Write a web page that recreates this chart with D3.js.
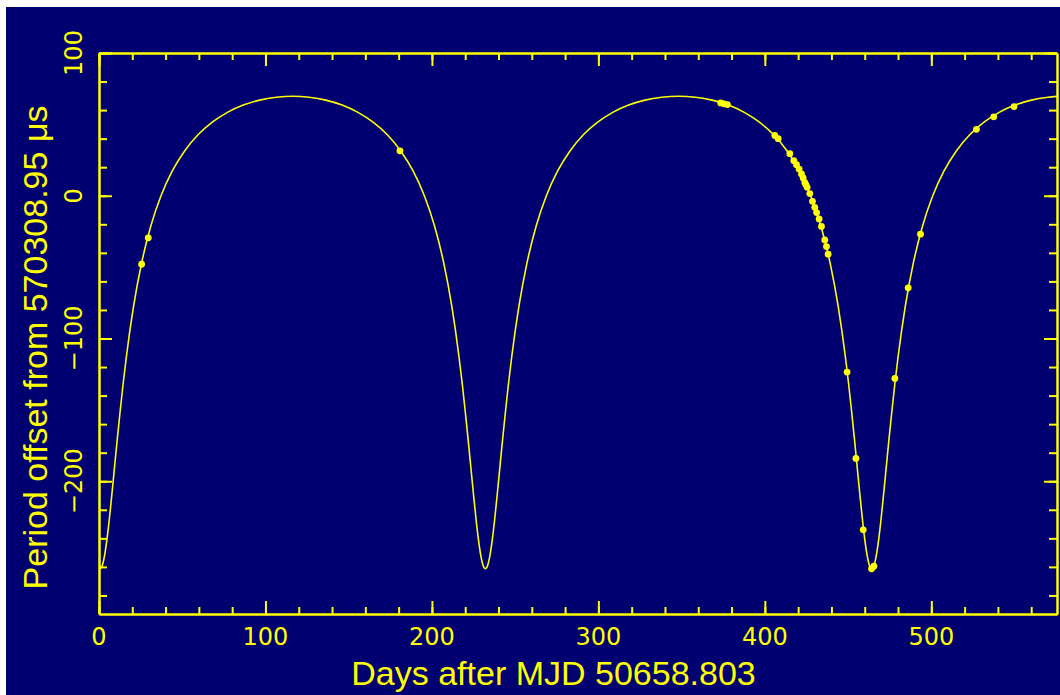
<!DOCTYPE html>
<html>
<head>
<meta charset="utf-8">
<script src="https://cdn.jsdelivr.net/npm/d3@7"></script>
<style>
body { margin: 0; background: #fff; }
svg { display: block; }
.ax path, .ax line { stroke: #ffff00; stroke-width: 2; }
</style>
</head>
<body>
<svg width="1060" height="695"></svg>
<script>
// orbit model curve (days, period offset in us)
var curveDays = [
  0, 0.6, 1.96, 3.33, 4.74, 6.18, 7.68, 9.25, 10.90, 12.65, 14.49, 16.46, 20.77, 25.64, 31.13, 37.25, 44.03, 51.44, 59.47, 68.06, 77.15, 86.65, 96.48, 106.53, 116.6,
  126.17, 136.22, 146.05, 155.55, 164.64, 173.23, 181.26, 188.67, 195.45, 201.57, 207.06, 211.93, 216.24, 218.21, 220.05, 221.80, 223.45, 225.02, 226.52, 227.96, 229.37, 230.74,
  232.1,
  233.46, 234.83, 236.24, 237.68, 239.18, 240.75, 242.40, 244.15, 245.99, 247.96, 252.27, 257.14, 262.63, 268.75, 275.53, 282.94, 290.97, 299.56, 308.65, 318.15, 327.98, 338.03, 348.15,
  358.27, 368.32, 378.15, 387.65, 396.74, 405.33, 413.36, 420.77, 427.55, 433.67, 439.16, 444.03, 448.34, 450.31, 452.15, 453.90, 455.55, 457.12, 458.62, 460.06, 461.47, 462.84,
  464.2,
  465.56, 466.93, 468.34, 469.78, 471.28, 472.85, 474.50, 476.25, 478.09, 480.06, 484.37, 489.24, 494.73, 500.85, 507.63, 515.04, 523.07, 531.66, 540.75, 550.25, 560.08, 570.13, 575.5
];
var curveOffset = [
  -260.6, -261.3, -259.0, -252.1, -241.1, -226.8, -209.8, -191.1, -171.4, -151.5, -131.7, -112.6, -77.4, -46.9, -21.2, 0, 17.4, 31.4, 42.7, 51.5, 58.4, 63.5, 67.0, 69.0, 69.7,
  69.0, 67.0, 63.5, 58.4, 51.5, 42.7, 31.4, 17.4, 0, -21.2, -46.9, -77.4, -112.6, -131.7, -151.5, -171.4, -191.1, -209.8, -226.8, -241.1, -252.1, -259.0,
  -261.3,
  -259.0, -252.1, -241.1, -226.8, -209.8, -191.1, -171.4, -151.5, -131.7, -112.6, -77.4, -46.9, -21.2, 0, 17.4, 31.4, 42.7, 51.5, 58.4, 63.5, 67.0, 69.0, 69.7,
  69.0, 67.0, 63.5, 58.4, 51.5, 42.7, 31.4, 17.4, 0, -21.2, -46.9, -77.4, -112.6, -131.7, -151.5, -171.4, -191.1, -209.8, -226.8, -241.1, -252.1, -259.0,
  -261.3,
  -259.0, -252.1, -241.1, -226.8, -209.8, -191.1, -171.4, -151.5, -131.7, -112.6, -77.4, -46.9, -21.2, 0, 17.4, 31.4, 42.7, 51.5, 58.4, 63.5, 67.0, 69.0, 69.6
];

// measured periods
var obsDays = [25.6, 29.6, 180.8, 373.5, 375.5, 377.5, 406.0, 408.0, 415.0, 417.4, 419.0, 420.6, 422.0, 423.0, 424.0, 424.6, 425.4,
  427.0, 428.6, 430.0, 431.1, 432.6, 434.0, 436.0, 437.0, 438.0, 449.4, 454.7, 459.1, 464.1, 465.5, 478.1, 486.1, 493.5, 527.1, 537.5, 549.7];
var obsOffset = [-48, -29.5, 31.5, 65.0, 64.4, 63.9, 42.2, 40, 29.5, 24.6, 21.7, 18.7, 15.3, 12.5, 9.2, 7.8, 5.9,
  1.5, -3.9, -8.1, -11.8, -16.3, -21.5, -31, -35.6, -40.9, -123.5, -184, -234, -261.3, -259.5, -128, -64.5, -26.9, 46.5, 55.3, 62.5];

var xMajor = [0, 100, 200, 300, 400, 500];
var yMajor = [100, 0, -100, -200];
var xMinor = d3.range(0, 576, 20);
var yMinor = d3.range(-280, 101, 20);

var bg = '#000070';
var fg = '#ffff00';

const svg = d3.select('svg');

svg.append('rect')
  .attr('x', 6).attr('y', 7)
  .attr('width', 1054).attr('height', 688)
  .attr('fill', bg);

const x = d3.scaleLinear().domain([0, 575.5]).range([99, 1057]);
const y = d3.scaleLinear().domain([-293, 100]).range([614, 53]);

function drawAxis(gen, tr, vals, size)
{
  svg.append('g')
    .attr('class', 'ax')
    .attr('transform', tr)
    .call(gen.tickValues(vals).tickSize(size).tickSizeOuter(0).tickFormat(''));
}

// minor + major ticks, all pointing inwards, on all four sides
drawAxis(d3.axisBottom(x), 'translate(0,614)', xMinor, -7);
drawAxis(d3.axisBottom(x), 'translate(0,614)', xMajor, -13);
drawAxis(d3.axisTop(x), 'translate(0,53)', xMinor, -7);
drawAxis(d3.axisTop(x), 'translate(0,53)', xMajor, -13);
drawAxis(d3.axisLeft(y), 'translate(99,0)', yMinor, -8);
drawAxis(d3.axisLeft(y), 'translate(99,0)', yMajor, -13);
drawAxis(d3.axisRight(y), 'translate(1057,0)', yMinor, -8);
drawAxis(d3.axisRight(y), 'translate(1057,0)', yMajor, -13);

svg.selectAll('.xlab')
  .data(xMajor)
  .enter()
  .append('text')
  .attr('x', (d) => x(d))
  .attr('y', 645)
  .attr('text-anchor', 'middle')
  .attr('fill', fg)
  .style('font', '24px "DejaVu Sans"')
  .text((d) => d);

svg.selectAll('.ylab')
  .data(yMajor)
  .enter()
  .append('text')
  .attr('transform', (d) => `translate(82, ${y(d)}) rotate(-90)`)
  .attr('text-anchor', 'middle')
  .attr('fill', fg)
  .style('font', '24px "DejaVu Sans"')
  .text((d) => d < 0 ? '\u2212' + Math.abs(d) : d);

const curve = curveDays.map((d, i) => [d, curveOffset[i]]);

svg.append('path')
  .datum(curve)
  .attr('fill', 'none')
  .attr('stroke', fg)
  .attr('stroke-width', 1.6)
  .attr('d', d3.line()
    .x((d) => x(d[0]))
    .y((d) => y(d[1]))
    .curve(d3.curveMonotoneX));

svg.selectAll('.obs')
  .data(obsDays)
  .enter()
  .append('circle')
  .attr('cx', (d) => x(d))
  .attr('cy', (d, i) => y(obsOffset[i]))
  .attr('r', 3.4)
  .attr('fill', fg);

svg.append('text')
  .attr('x', 553.5)
  .attr('y', 685)
  .attr('text-anchor', 'middle')
  .attr('fill', fg)
  .style('font', '34px "Liberation Sans"')
  .text('Days after MJD 50658.803');

svg.append('text')
  .attr('transform', 'translate(47, 347.5) rotate(-90)')
  .attr('text-anchor', 'middle')
  .attr('fill', fg)
  .style('font', '34px "Liberation Sans"')
  .text('Period offset from 570308.95 \u03bcs');
</script>
</body>
</html>
